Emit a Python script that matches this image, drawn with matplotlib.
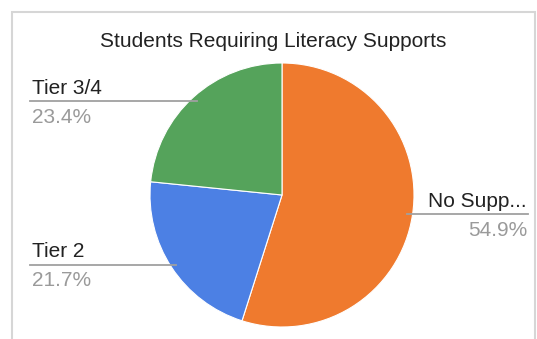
import numpy as np
import matplotlib
matplotlib.use('Agg')
import matplotlib.pyplot as plt
from matplotlib.patches import Rectangle

plt.rcParams['font.family'] = ['Liberation Sans', 'DejaVu Sans']

# ── data ──
labels = ['No Supp...', 'Tier 2', 'Tier 3/4']
shares = [54.9, 21.7, 23.4]
colors = ['#EF7A2E', '#4C80E4', '#55A35B']
title = 'Students Requiring Literacy Supports'

W, H = 537, 339
CX, CY, R = 282, 195, 132   # pie centre / radius in pixel coords (y down)


def py(y):
    return H - y


fig = plt.figure(figsize=(W / 100, H / 100), dpi=100)
ax = fig.add_axes([0, 0, 1, 1])
ax.set_xlim(0, W)
ax.set_ylim(0, H)
ax.axis('off')
fig.patch.set_facecolor('white')

# card frame
ax.add_patch(Rectangle((12, py(345)), 523, 333, facecolor='none',
                       edgecolor='#d6d6d6', lw=1.5, zorder=0))

ax.text(273, py(47), title, ha='center', va='baseline',
        fontsize=15, color='#222222')

wedges, _ = ax.pie(shares, colors=colors, startangle=90, counterclock=False,
                   center=(CX, py(CY)), radius=R, frame=True,
                   wedgeprops=dict(edgecolor='white', linewidth=0.8))
ax.set_xlim(0, W)
ax.set_ylim(0, H)
ax.set_aspect('equal')
ax.axis('off')

LEFT_X, RIGHT_X = 30, 528
for w, lab, v in zip(wedges, labels, shares):
    mid = np.deg2rad((w.theta1 + w.theta2) / 2)
    ex = CX + 0.96 * R * np.cos(mid)
    ey = py(CY) + 0.96 * R * np.sin(mid)
    if np.cos(mid) >= 0:
        ax.plot([ex, RIGHT_X], [ey, ey], color='#a0a0a0', lw=1.3, zorder=3)
        tx, ha = RIGHT_X - 1, 'right'
    else:
        ax.plot([LEFT_X, ex], [ey, ey], color='#a0a0a0', lw=1.3, zorder=3)
        tx, ha = LEFT_X + 2, 'left'
    ax.text(tx, ey + 7.5, lab, ha=ha, va='baseline', fontsize=15,
            color='#222222')
    ax.text(tx, ey - 21.5, f'{v}%', ha=ha, va='baseline', fontsize=15,
            color='#9a9a9a')

fig.savefig('out.png', dpi=100, facecolor='white')
